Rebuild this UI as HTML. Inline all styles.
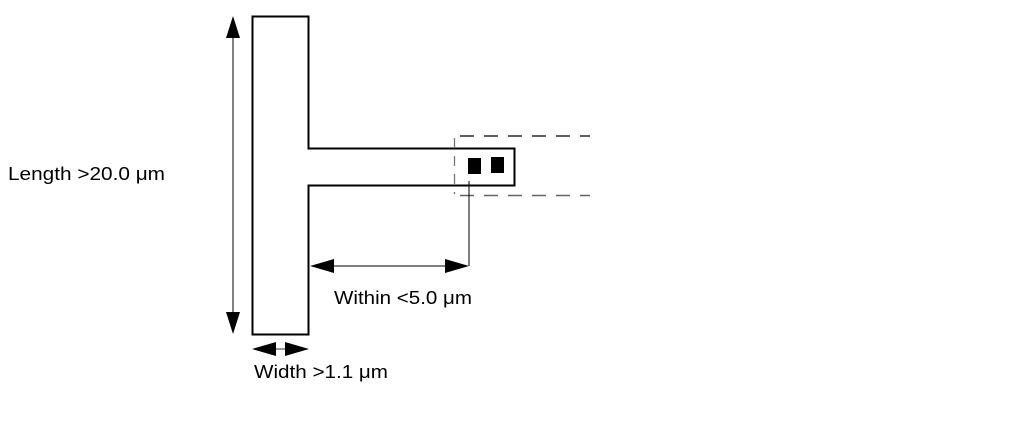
<!DOCTYPE html>
<html><head><style>body{margin:0;background:#fff}svg{display:block}text{font-family:"Liberation Sans",sans-serif;font-size:18px;fill:#000}</style></head>
<body>
<svg width="1013" height="428" viewBox="0 0 1013 428">
<path d="M252.5 16.5 H308.5 V148.5 H514.5 V185.5 H308.5 V334.5 H252.5 Z" fill="none" stroke="#000" stroke-width="2"/>
<line x1="460" y1="136" x2="590" y2="136" stroke="#000" stroke-width="1.3" stroke-dasharray="14,10"/>
<line x1="460" y1="195.5" x2="590" y2="195.5" stroke="#666" stroke-width="1.5" stroke-dasharray="14,10"/>
<line x1="454.5" y1="138" x2="454.5" y2="194" stroke="#777" stroke-width="1.3" stroke-dasharray="10,8"/>
<rect x="468" y="158" width="13" height="16" fill="#000"/>
<rect x="491" y="157" width="13" height="16" fill="#000"/>
<line x1="469" y1="181" x2="469" y2="266" stroke="#000" stroke-width="1"/>
<line x1="320" y1="266" x2="458" y2="266" stroke="#000" stroke-width="1"/>
<polygon points="310,266 334,259 334,273" fill="#000"/>
<polygon points="469,266 445,259 445,273" fill="#000"/>
<line x1="233" y1="30" x2="233" y2="320" stroke="#000" stroke-width="1"/>
<polygon points="233,16 226,38 240,38" fill="#000"/>
<polygon points="233,334 226,312 240,312" fill="#000"/>
<line x1="265" y1="349" x2="296" y2="349" stroke="#777" stroke-width="1.5"/>
<polygon points="252,349 276,342 276,356" fill="#000"/>
<polygon points="309,349 285,342 285,356" fill="#000"/>
<text x="8" y="180" textLength="157" lengthAdjust="spacingAndGlyphs">Length &gt;20.0 μm</text>
<text x="334" y="304" textLength="138" lengthAdjust="spacingAndGlyphs">Within &lt;5.0 μm</text>
<text x="254" y="378" textLength="134" lengthAdjust="spacingAndGlyphs">Width &gt;1.1 μm</text>
</svg>
</body></html>
